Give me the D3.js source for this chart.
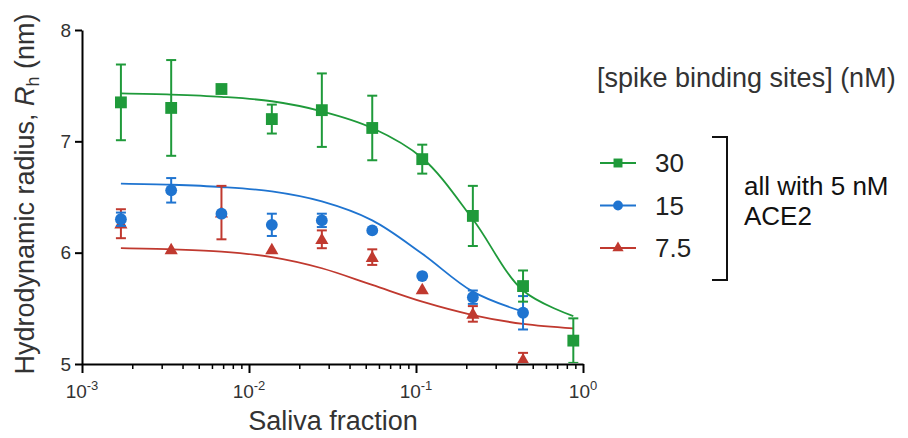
<!DOCTYPE html>
<html>
<head>
<meta charset="utf-8">
<script src="https://cdn.jsdelivr.net/npm/d3@7"></script>
<style>
  body { margin: 0; background: #fff; }
  svg { display: block; font-family: "Liberation Sans", Arial, sans-serif; }
</style>
</head>
<body>
<div id="chart"></div>
<script>
// ---- Data ----
const salivaFraction = [0.00171, 0.00342, 0.00684, 0.0137, 0.0273, 0.0547, 0.109, 0.219, 0.4375, 0.875];

const series = ["30", "15", "7.5"];

// 30 nM spike
const mean30 = [7.35, 7.30, 7.47, 7.20, 7.28, 7.12, 6.84, 6.33, 5.70, 5.21];
const sd30   = [0.34, 0.43, 0.03, 0.13, 0.33, 0.29, 0.13, 0.27, 0.14, 0.20];
const fit30  = [7.43, 7.42, 7.40, 7.36, 7.27, 7.12, 6.85, 6.30, 5.66, 5.43];

// 15 nM spike (no point at the highest fraction)
const mean15 = [6.30, 6.56, 6.35, 6.25, 6.29, 6.20, 5.79, 5.60, 5.46];
const sd15   = [0.06, 0.11, 0.03, 0.10, 0.06, 0.03, 0.02, 0.06, 0.15];
const fit15  = [6.62, 6.61, 6.59, 6.55, 6.46, 6.29, 5.99, 5.65, 5.47];

// 7.5 nM spike
const mean75 = [6.26, 6.03, 6.36, 6.03, 6.12, 5.96, 5.67, 5.45, 5.04];
const sd75   = [0.13, 0.02, 0.24, 0.02, 0.08, 0.07, 0.02, 0.07, 0.06];
const fit75  = [6.04, 6.03, 6.01, 5.96, 5.86, 5.71, 5.56, 5.44, 5.36, 5.32];

const yTicks = [5, 6, 7, 8];
const xMajor = [-3, -2, -1, 0];   // exponents of 10

const colors = { "30": "#1f9a3a", "15": "#1f74d0", "7.5": "#c0392f" };

// ---- Layout ----
const W = 908, H = 438;
const svg = d3.select("#chart").append("svg")
  .attr("width", W).attr("height", H);

const x = d3.scaleLog().domain([1e-3, 1]).range([82, 583]);
const y = d3.scaleLinear().domain([5, 8]).range([364, 30]);

const textCol = "#333";

// ---- Axes ----
const gx = svg.append("g").attr("transform", `translate(0,${y(5)})`);
gx.call(d3.axisBottom(x)
    .tickValues(xMajor.map(e => Math.pow(10, e)))
    .tickSize(9).tickSizeOuter(0).tickFormat(""));
gx.select(".domain").attr("stroke", "#000").attr("stroke-width", 2);
gx.selectAll(".tick line").attr("stroke", "#000").attr("stroke-width", 2);

// minor ticks 2..9 in each decade
const minor = [];
xMajor.slice(0, 3).forEach(e => { for (let k = 2; k <= 9; k++) minor.push(k * Math.pow(10, e)); });
const gxm = svg.append("g").attr("transform", `translate(0,${y(5)})`);
gxm.call(d3.axisBottom(x).tickValues(minor).tickSize(5).tickSizeOuter(0).tickFormat(""));
gxm.select(".domain").remove();
gxm.selectAll(".tick line").attr("stroke", "#000").attr("stroke-width", 1.5);

// major tick labels: 10 with superscript exponent, whole label centred on the tick
xMajor.forEach(e => {
  const t = svg.append("text")
    .attr("x", x(Math.pow(10, e))).attr("y", 398)
    .attr("text-anchor", "middle")
    .attr("font-size", 19).attr("fill", textCol);
  t.append("tspan").text("10");
  t.append("tspan").attr("font-size", 13).attr("dy", -8).text(String(e));
});

const gy = svg.append("g").attr("transform", `translate(${x(1e-3)},0)`);
gy.call(d3.axisLeft(y).tickValues(yTicks).tickSize(7).tickSizeOuter(0).tickFormat(d3.format("d")));
gy.select(".domain").attr("stroke", "#000").attr("stroke-width", 2);
gy.selectAll(".tick line").attr("stroke", "#000").attr("stroke-width", 2);
gy.selectAll(".tick text").attr("font-size", 19).attr("fill", textCol)
  .attr("font-family", "'Liberation Sans', Arial, sans-serif").attr("x", -11);

// axis titles
svg.append("text")
  .attr("x", 333).attr("y", 430)
  .attr("text-anchor", "middle")
  .attr("font-size", 27).attr("fill", textCol)
  .text("Saliva fraction");

const yl = svg.append("text")
  .attr("transform", "translate(34,194) rotate(-90)")
  .attr("text-anchor", "middle")
  .attr("font-size", 27).attr("fill", textCol);
yl.append("tspan").text("Hydrodynamic radius, ");
yl.append("tspan").attr("font-style", "italic").text("R");
yl.append("tspan").attr("font-size", 18).attr("dy", 5).text("h");
yl.append("tspan").attr("dy", -5).text(" (nm)");

// ---- Plot contents ----
svg.append("clipPath").attr("id", "plotclip")
  .append("rect").attr("x", 82).attr("y", 0).attr("width", 520).attr("height", y(5) - 1);

const plot = svg.append("g").attr("clip-path", "url(#plotclip)");

const sets = [
  { key: "7.5", mean: mean75, sd: sd75, fit: fit75, sym: d3.symbolTriangle, size: 75 },
  { key: "15",  mean: mean15, sd: sd15, fit: fit15, sym: d3.symbolCircle,   size: 110 },
  { key: "30",  mean: mean30, sd: sd30, fit: fit30, sym: d3.symbolSquare,   size: 140 }
];

const line = d3.line()
  .x(d => x(d[0])).y(d => y(d[1]))
  .curve(d3.curveCatmullRom.alpha(0.5));

// fit curves first
sets.forEach(s => {
  plot.append("path")
    .datum(s.fit.map((v, i) => [salivaFraction[i], v]))
    .attr("d", line)
    .attr("fill", "none")
    .attr("stroke", colors[s.key])
    .attr("stroke-width", 1.8);
});

sets.forEach(s => {
  const c = colors[s.key];
  const pts = s.mean.map((m, i) => ({ x: salivaFraction[i], m, sd: s.sd[i] }));
  const g = plot.append("g");

  // error bars
  const eb = g.selectAll(".eb").data(pts.filter(d => d.sd > 0.04)).join("g");
  eb.append("line")
    .attr("x1", d => x(d.x)).attr("x2", d => x(d.x))
    .attr("y1", d => y(d.m + d.sd)).attr("y2", d => y(d.m - d.sd))
    .attr("stroke", c).attr("stroke-width", 2);
  [1, -1].forEach(sg => {
    eb.append("line")
      .attr("x1", d => x(d.x) - 5).attr("x2", d => x(d.x) + 5)
      .attr("y1", d => y(d.m + sg * d.sd)).attr("y2", d => y(d.m + sg * d.sd))
      .attr("stroke", c).attr("stroke-width", 2);
  });

  // markers
  g.selectAll(".pt").data(pts).join("path")
    .attr("transform", d => `translate(${x(d.x)},${y(d.m) + (s.key === "7.5" ? 1 : 0)})`)
    .attr("d", d3.symbol().type(s.sym).size(s.size))
    .attr("fill", c);
});

// ---- Legend ----
svg.append("text")
  .attr("x", 597).attr("y", 87)
  .attr("font-size", 27).attr("fill", textCol)
  .text("[spike binding sites] (nM)");

const legSym = { "30": d3.symbolSquare, "15": d3.symbolCircle, "7.5": d3.symbolTriangle };
const legSize = { "30": 80, "15": 75, "7.5": 55 };
const legY = d3.scalePoint().domain(series).range([163, 248]);

series.forEach(k => {
  const ly = legY(k);
  svg.append("line")
    .attr("x1", 600).attr("x2", 636).attr("y1", ly).attr("y2", ly)
    .attr("stroke", colors[k]).attr("stroke-width", 2);
  svg.append("path")
    .attr("transform", `translate(618,${ly})`)
    .attr("d", d3.symbol().type(legSym[k]).size(legSize[k]))
    .attr("fill", colors[k]);
  svg.append("text")
    .attr("x", 655).attr("y", ly + 9)
    .attr("font-size", 26).attr("fill", "#222")
    .text(k);
});

// bracket
svg.append("path")
  .attr("d", "M712,137 H727 V280 H712")
  .attr("fill", "none").attr("stroke", "#111").attr("stroke-width", 2);

svg.append("text").attr("x", 744).attr("y", 195)
  .attr("font-size", 26).attr("fill", "#111").text("all with 5 nM");
svg.append("text").attr("x", 744).attr("y", 225)
  .attr("font-size", 26).attr("fill", "#111").text("ACE2");
</script>
</body>
</html>
